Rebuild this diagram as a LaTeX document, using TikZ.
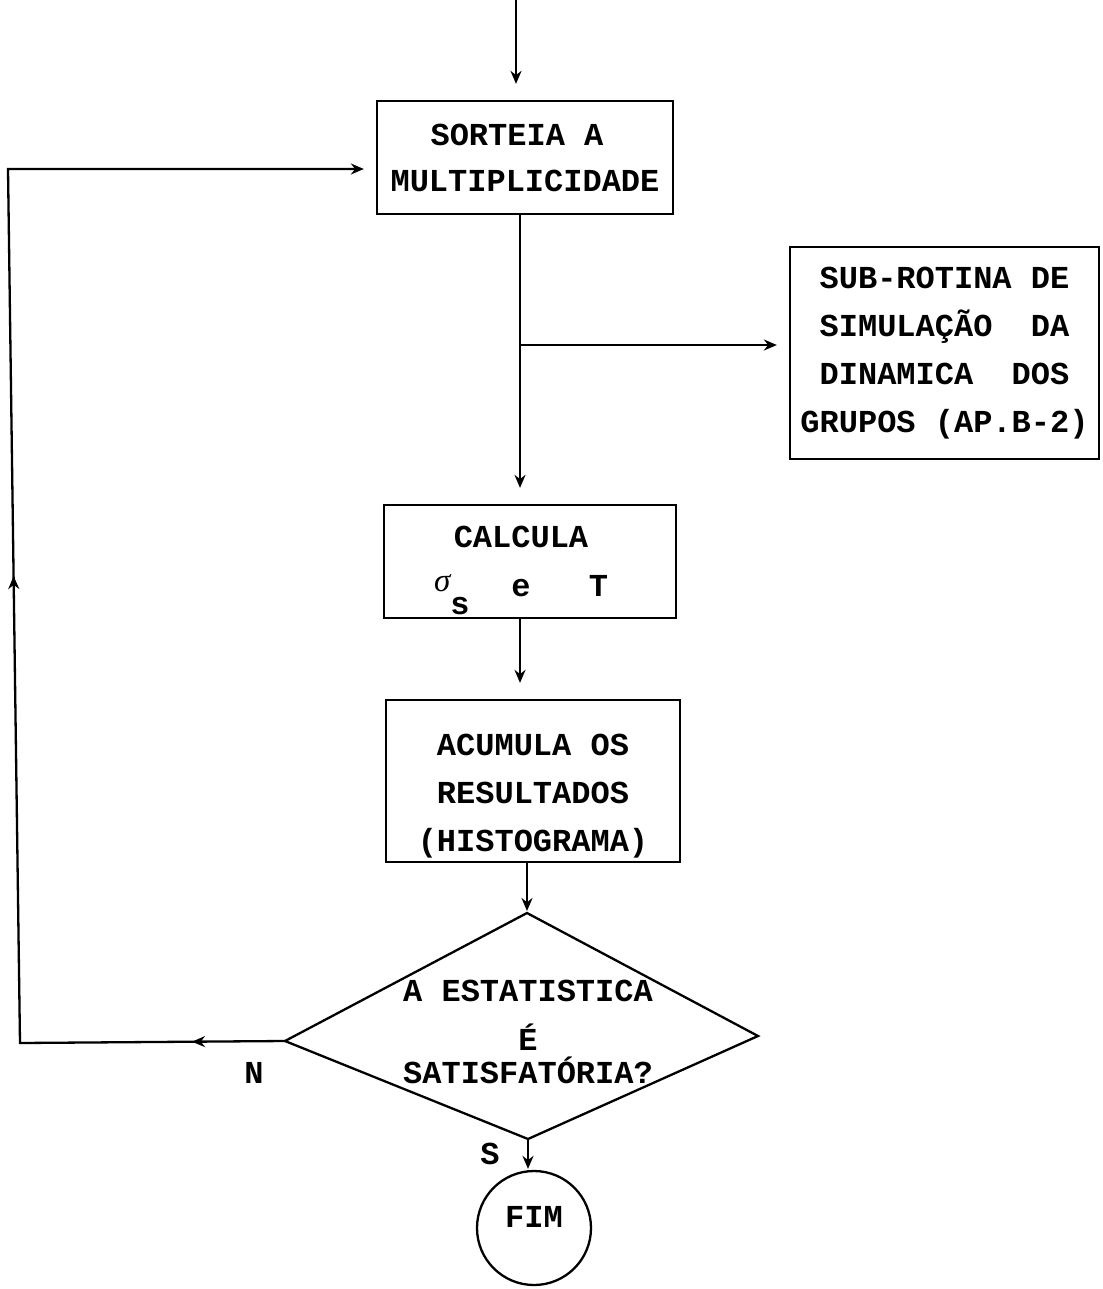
\documentclass[tikz,border=0pt]{standalone}
\usepackage{fontspec}
\newfontfamily\typ{Liberation Mono}
\newfontfamily\grk{Liberation Serif}
\usetikzlibrary{arrows.meta,decorations.markings,calc}
\begin{document}
\begin{tikzpicture}[x=1pt,y=-1pt,line width=2.3pt,
  txt/.style={font=\typ\bfseries\fontsize{32}{48}\selectfont, inner sep=0pt},
  box/.style={txt, draw, align=center},
  arr/.style={-{Stealth[length=13pt,width=11pt]}},
  midarr/.style={postaction={decorate}, decoration={markings,
     mark=at position 93pt with {\arrow{Stealth[length=13pt,width=11pt]}},
     mark=at position 732pt with {\arrow{Stealth[length=13pt,width=11pt]}}}}
]
\useasboundingbox (0,0) rectangle (1102,1289);

% boxes
\node[box, minimum width=296pt, minimum height=113pt] (b1) at (525,157.5)
  {SORTEIA A\kern16pt\\[-2pt]MULTIPLICIDADE};
\node[box, minimum width=309pt, minimum height=212pt] (sub) at (944.5,353)
  {SUB-ROTINA DE\\SIMULAÇÃO~~DA\\DINAMICA~~DOS\\GRUPOS (AP.B-2)};
\node[box, minimum width=292pt, minimum height=113pt] (calc) at (530,561.5)
  {CALCULA\kern18pt\\[1pt]\makebox[174pt][l]{\raisebox{5pt}{\grk\itshape\mdseries\fontsize{33}{33}\selectfont σ}\raisebox{-18pt}[0pt][0pt]{s}\hspace{42pt}e\hfill T}\kern18pt};
\node[box, minimum width=294pt, minimum height=162pt] (acum) at (533,781)
  {\rule{0pt}{52pt}ACUMULA OS\\RESULTADOS\\(HISTOGRAMA)};

% decision
\coordinate (dT) at (527,913);
\coordinate (dR) at (758,1036);
\coordinate (dB) at (528,1139);
\coordinate (dL) at (285,1041);
\draw (dT) -- (dR) -- (dB) -- (dL) -- cycle;
\node[txt, align=center] (q) at (528,1032)
  {A ESTATISTICA\\[1pt]É\\[-15pt]SATISFATÓRIA?};

% end
\node[txt, draw, circle, minimum size=114pt] (fim) at (534,1228)
  {FIM\rule[-22pt]{0pt}{22pt}};

% labels
\node[txt] (nlab) at (254,1073) {N};
\node[txt] (slab) at (490,1154) {S};

% connectors
\coordinate (in) at (516,0);
\coordinate (v) at (520,345);
\draw[arr, shorten >=16pt] (in) -- (in |- b1.north);
\draw[arr, shorten >=16pt] (b1.south -| v) -- (calc.north -| v);
\draw[arr, shorten >=12pt] (v) -- (v -| sub.west);
\draw[arr, shorten >=16pt] (calc.south -| v) -- (acum.north -| v);
\draw[arr, shorten >=2pt] (acum.south -| dT) -- (dT);
\draw[arr, shorten >=1pt] (dB) -- (dB |- fim.north);

\coordinate (c1) at (20,1043);
\coordinate (c2) at (8,169);
\draw[arr, midarr] (dL) -- (c1) -- (c2) -- ($(c2 -| b1.west)+(-12pt,0)$);
\end{tikzpicture}
\end{document}
